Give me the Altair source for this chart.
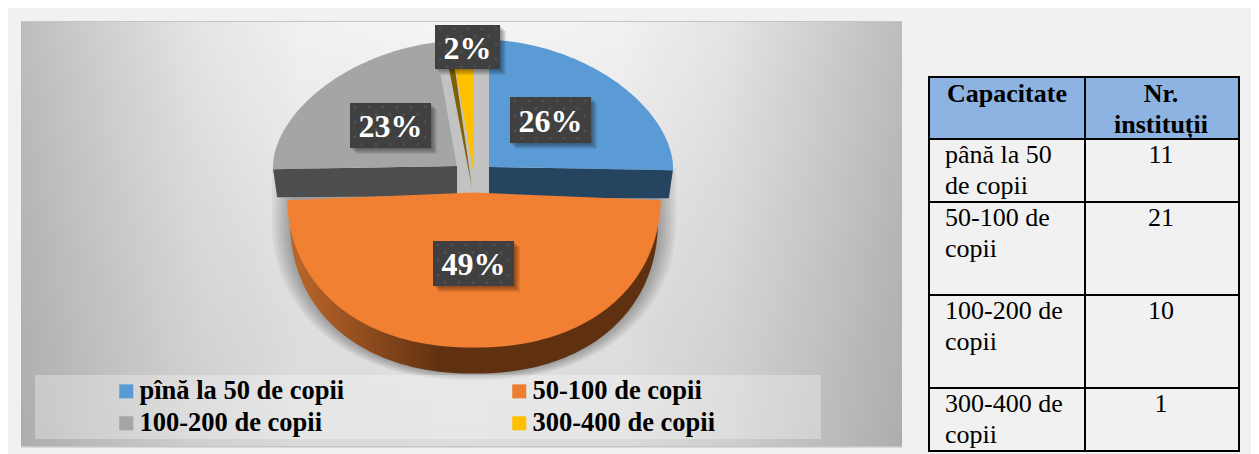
import math
import altair as alt
import pandas as pd

# ---------- chart values ----------
categories = ["pînă la 50 de copii", "50-100 de copii", "100-200 de copii", "300-400 de copii"]
institutions = [11, 21, 10, 1]
percent_labels = ["26%", "49%", "23%", "2%"]
face_colors = ["#5B9BD5", "#F28033", "#A5A5A5", "#FFC000"]
legend_colors = ["#5B9BD5", "#ED7D31", "#A5A5A5", "#FFC000"]
side_colors = ["#25445F", "#7A4018", "#4D4D4D", "#7F6000"]
table_head = ["Capacitate", "Nr.", "instituții"]
table_rows = [["până la 50", "de copii"], ["50-100 de", "copii"], ["100-200 de", "copii"], ["300-400 de", "copii"]]

# ---------- layout ----------
W, H = 1243, 446
SX = alt.Scale(domain=[8, 8 + W], range=[0, W], nice=False, zero=False)
SY = alt.Scale(domain=[8, 8 + H], range=[0, H], nice=False, zero=False)
X = alt.X("x:Q", scale=SX, axis=None)
Y = alt.Y("y:Q", scale=SY, axis=None)
SERIF = "Liberation Serif"

def rect(x, x2, y, y2, fill, opacity=1.0):
    df = pd.DataFrame({"x": [x], "x2": [x2], "y": [y], "y2": [y2]})
    return alt.Chart(df).mark_rect(fill=fill, opacity=opacity, stroke=None).encode(
        x=X, x2=alt.X2("x2"), y=Y, y2=alt.Y2("y2"))

def poly(pts, fill, opacity=1.0):
    df = pd.DataFrame(pts, columns=["x", "y"])
    df["o"] = range(len(df))
    return alt.Chart(df).mark_line(filled=True, fill=fill, strokeWidth=0, opacity=opacity,
                                   interpolate="linear-closed").encode(
        x=X, y=Y, order=alt.Order("o:Q"))

def arc(c, a, b, t0, t1, p=2.0, n=90):
    pts = []
    for i in range(n + 1):
        t = math.radians(t0 + (t1 - t0) * i / n)
        s, k = math.sin(t), math.cos(t)
        pts.append((c[0] + a * math.copysign(abs(s) ** (2 / p), s),
                    c[1] - b * math.copysign(abs(k) ** (2 / p), k)))
    return pts

def text(x, y, s, size=26, color="#000000", bold=False, align="left"):
    df = pd.DataFrame({"x": [x], "y": [y], "t": [s]})
    return alt.Chart(df).mark_text(font=SERIF, fontSize=size, color=color, align=align,
                                   baseline="alphabetic",
                                   fontWeight="bold" if bold else "normal").encode(
        x=X, y=Y, text="t:N")

layers = []

# page and panel
layers.append(rect(8, 8 + W, 8, 8 + H, "#F1F1F1"))
layers.append(rect(21, 902, 21, 447.5, "#C4C4C4"))
panel = alt.LinearGradient(gradient="linear", x1=0, y1=0, x2=1, y2=0,
                           stops=[alt.GradientStop(color="#BDBDBD", offset=0),
                                  alt.GradientStop(color="#D4D4D4", offset=0.1),
                                  alt.GradientStop(color="#EAEAEA", offset=0.2),
                                  alt.GradientStop(color="#FAFAFA", offset=0.32),
                                  alt.GradientStop(color="#FFFFFF", offset=0.5),
                                  alt.GradientStop(color="#FAFAFA", offset=0.68),
                                  alt.GradientStop(color="#EAEAEA", offset=0.8),
                                  alt.GradientStop(color="#D4D4D4", offset=0.9),
                                  alt.GradientStop(color="#BDBDBD", offset=1)])
layers.append(rect(21, 902, 22, 446, panel))
lower_shade = alt.RadialGradient(gradient="radial", x1=0.5, y1=1.0, r1=0, x2=0.5, y2=1.0, r2=0.9,
                                 stops=[alt.GradientStop(color="rgba(0,0,0,0.17)", offset=0),
                                        alt.GradientStop(color="rgba(0,0,0,0.11)", offset=0.5),
                                        alt.GradientStop(color="rgba(0,0,0,0)", offset=1)])
layers.append(rect(21, 902, 22, 446, lower_shade))

# slice angles from the institution counts
total = sum(institutions)
ang = [0]
for v in institutions:
    ang.append(ang[-1] + 360 * v / total)

centers = [(489, 167), (474, 192.5), (457, 166), (473, 170)]
radii = [(184, 127), (187, 155), (184, 125), (184, 127)]
BACK_P, FRONT_P = 1.8, 2.2
RIM = 26

# soft shadow of the pie
for i in range(8):
    grow = 2.6 * i
    layers.append(poly([(474 - 184 - grow, 168), (474 + 184 + grow, 168)] +
                       arc((474, 192.5 + RIM), 184 + grow, 155 + 1.0 * i, 90, 270, FRONT_P),
                       "#000000", 0.045))

# light gap between the exploded slices
gray_end = arc(centers[2], *radii[2], ang[3], ang[3], BACK_P, 1)[0]
layers.append(poly([gray_end, (489, 40), (489, 198), (457, 198), centers[2]], "#C2C2C2"))

# front walls of the upper slices
def wall(i, t, d_outer, d_center, slant):
    c, r = centers[i], radii[i]
    e = arc(c, r[0], r[1], t, t, BACK_P, 1)[0]
    return [c, e, (e[0] + slant, e[1] + d_outer), (c[0], c[1] + d_center)]

layers.append(poly(wall(0, ang[1], 28, 31, -4), side_colors[0]))
layers.append(poly(wall(2, ang[2], 28, 30, 4), side_colors[2]))

# yellow slice side wall
c3, r3 = centers[3], radii[3]
yellow_end = arc(c3, r3[0], r3[1], ang[3], ang[3], BACK_P, 1)[0]
layers.append(poly([(c3[0] - 1, c3[1] + 18), yellow_end, (yellow_end[0] - 7, yellow_end[1])], side_colors[3]))

# top faces of the upper slices
layers.append(poly([centers[0]] + arc(centers[0], *radii[0], ang[0], ang[1], BACK_P), face_colors[0]))
layers.append(poly([centers[2]] + arc(centers[2], *radii[2], ang[2], ang[3], BACK_P), face_colors[2]))
layers.append(poly([centers[3]] + arc(centers[3], *radii[3], ang[3], ang[4], BACK_P), face_colors[3]))

# orange slice: rim then face
c1, r1 = centers[1], radii[1]
rim = alt.LinearGradient(gradient="linear", x1=0, y1=0, x2=1, y2=0,
                         stops=[alt.GradientStop(color="#B8682B", offset=0),
                                alt.GradientStop(color="#A85A25", offset=0.1),
                                alt.GradientStop(color="#5F3110", offset=0.41),
                                alt.GradientStop(color="#5F3110", offset=1)])
lower = arc((c1[0], c1[1] + RIM), r1[0] - 3, r1[1], ang[1], ang[2], FRONT_P)
layers.append(poly(lower, rim))
layers.append(poly([c1] + arc(c1, r1[0], r1[1], ang[1], ang[2], FRONT_P), face_colors[1]))

# legend band and real legend (Vega fills legend columns first)
layers.append(rect(35, 821, 375, 439, "#FFFFFF", 0.3))
order = [0, 2, 1, 3]
legend_df = pd.DataFrame({"x": [100] * 4, "y": [100] * 4, "cat": categories})
layers.append(alt.Chart(legend_df).mark_square(opacity=0).encode(
    x=X, y=Y,
    color=alt.Color("cat:N",
                    scale=alt.Scale(domain=[categories[i] for i in order],
                                    range=[legend_colors[i] for i in order]),
                    legend=alt.Legend(orient="none", legendX=105, legendY=370, columns=2, title=None,
                                      symbolType="square", symbolSize=196, symbolOpacity=1,
                                      symbolStrokeWidth=0, labelFont=SERIF, labelFontWeight="bold",
                                      labelFontSize=26.5, labelColor="#000000", labelLimit=400,
                                      labelOffset=0, columnPadding=161, rowPadding=5))))

# data labels on dark boxes
boxes = [(510, 591, 97, 143), (433, 514, 241, 286), (350, 431, 103, 148), (435, 500, 25, 69)]
for (x0, x1, y0, y1), lab in zip(boxes, percent_labels):
    for k in range(1, 7):
        layers.append(rect(x0 + k, x1 + k, y0 + k, y1 + k, "#000000", 0.075))
    layers.append(rect(x0, x1, y0, y1, "#404040"))
    dots = pd.DataFrame([(x0 + 5 + 14 * i + (7 if j % 2 else 0), y0 + 4 + 7.5 * j)
                         for j in range(int((y1 - y0 - 4) / 7.5) + 1)
                         for i in range(int((x1 - x0 - 8) / 14) + 1)
                         if x0 + 5 + 14 * i + (7 if j % 2 else 0) < x1 - 2], columns=["x", "y"])
    layers.append(alt.Chart(dots).mark_circle(size=9, color="#5A5A5A", opacity=0.6).encode(x=X, y=Y))
    layers.append(text((x0 + x1) / 2, (y0 + y1) / 2 + 11.5, lab, size=32, color="#FFFFFF", bold=True, align="center"))

# table
layers.append(rect(929, 1239, 77, 139, "#8DB3E2"))
TX = [929, 1085, 1239]
TY = [77, 139, 202, 295, 388, 451]
for x in TX:
    layers.append(rect(x - 1, x + 1, TY[0] - 1, TY[-1] + 1, "#000000"))
for y in TY:
    layers.append(rect(TX[0] - 1, TX[-1] + 1, y - 1, y + 1, "#000000"))
layers.append(text(1007, 102, table_head[0], bold=True, align="center"))
layers.append(text(1161, 102, table_head[1], bold=True, align="center"))
layers.append(text(1161, 133, table_head[2], bold=True, align="center"))
for top, row, n in zip(TY[1:], table_rows, institutions):
    layers.append(text(945, top + 24, row[0]))
    layers.append(text(945, top + 55, row[1]))
    layers.append(text(1161, top + 24, str(n), align="center"))

chart = alt.layer(*layers).properties(
    width=W, height=H, padding=0, autosize=alt.AutoSizeParams(type="none")
).configure_view(stroke=None).configure(background="#FFFFFF")

chart.save("out.html", embed_options={"renderer": "svg", "actions": False})
